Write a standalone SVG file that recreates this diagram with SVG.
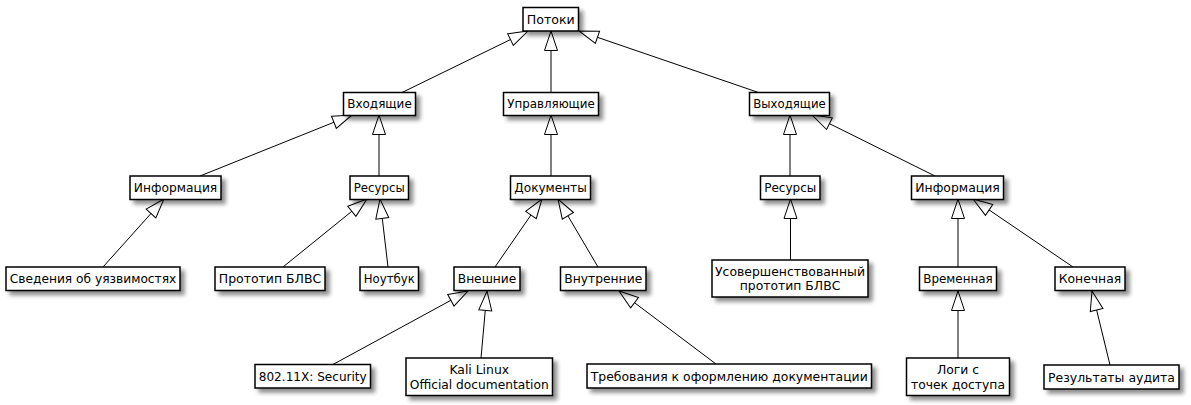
<svg xmlns="http://www.w3.org/2000/svg" width="1191" height="405" viewBox="0 0 1191 405">
<style>
.b{fill:#fff;stroke:#000;stroke-width:1.5;filter:url(#sh)}
.t{font-family:"DejaVu Sans",sans-serif;font-size:12.4px;text-anchor:middle;fill:#000}
.c{stroke:#000;stroke-width:1;fill:none;marker-end:url(#tri)}
</style>
<defs>
<filter id="sh" x="-20%" y="-30%" width="150%" height="180%">
<feGaussianBlur in="SourceAlpha" stdDeviation="2"/>
<feOffset dx="4" dy="4" result="o"/>
<feComponentTransfer><feFuncA type="linear" slope="0.45"/></feComponentTransfer>
<feMerge><feMergeNode/><feMergeNode in="SourceGraphic"/></feMerge>
</filter>
<marker id="tri" markerUnits="userSpaceOnUse" viewBox="0 0 20 14" refX="20" refY="7" markerWidth="20" markerHeight="14" orient="auto" overflow="visible">
<path d="M0.5,0.5 L20,7 L0.5,13.5 Z" fill="#fff" stroke="#000" stroke-width="1"/>
</marker>
</defs>
<g id="connectors">
<path class="c" d="M401,93 L528,31"/>
<path class="c" d="M551,93 L551,31"/>
<path class="c" d="M760,93 L579,31"/>
<path class="c" d="M200,176 L352,115"/>
<path class="c" d="M379,176 L379,115"/>
<path class="c" d="M551,176 L551,115"/>
<path class="c" d="M790,176 L790,115"/>
<path class="c" d="M935,176 L812,115"/>
<path class="c" d="M103,267 L164,199"/>
<path class="c" d="M283,267 L367,199"/>
<path class="c" d="M388,267 L380,199"/>
<path class="c" d="M495,267 L542,199"/>
<path class="c" d="M598,267 L558,199"/>
<path class="c" d="M790.5,260 L790.5,199"/>
<path class="c" d="M958,267 L958,199"/>
<path class="c" d="M1073,267 L973,199"/>
<path class="c" d="M332,365 L468,291"/>
<path class="c" d="M481,358 L487,291"/>
<path class="c" d="M716,364 L619,291"/>
<path class="c" d="M958,358 L958,291"/>
<path class="c" d="M1110,365 L1092,291"/>
</g>
<g id="n_potoki"><rect class="b" x="523" y="7.5" width="55.5" height="23.5"/><text class="t" x="550.75" y="23.7" textLength="48" lengthAdjust="spacingAndGlyphs">Потоки</text></g>
<g id="n_vhod"><rect class="b" x="343.5" y="92.5" width="72" height="23"/><text class="t" x="379.5" y="108.3" textLength="64.5" lengthAdjust="spacingAndGlyphs">Входящие</text></g>
<g id="n_upr"><rect class="b" x="503.5" y="92.5" width="95" height="23"/><text class="t" x="551" y="108.3" textLength="87.5" lengthAdjust="spacingAndGlyphs">Управляющие</text></g>
<g id="n_vyh"><rect class="b" x="749.5" y="92.5" width="80" height="23"/><text class="t" x="789.5" y="108.3" textLength="72.5" lengthAdjust="spacingAndGlyphs">Выходящие</text></g>
<g id="n_info_l"><rect class="b" x="130" y="176" width="91" height="23.5"/><text class="t" x="175.5" y="192.3" textLength="83.5" lengthAdjust="spacingAndGlyphs">Информация</text></g>
<g id="n_res_l"><rect class="b" x="350" y="176" width="58.5" height="23.5"/><text class="t" x="379.25" y="192.3" textLength="51" lengthAdjust="spacingAndGlyphs">Ресурсы</text></g>
<g id="n_docs"><rect class="b" x="510.5" y="176" width="80" height="23.5"/><text class="t" x="550.5" y="192.3" textLength="72.5" lengthAdjust="spacingAndGlyphs">Документы</text></g>
<g id="n_res_r"><rect class="b" x="760.5" y="176" width="59.5" height="23.5"/><text class="t" x="790.25" y="192.3" textLength="52" lengthAdjust="spacingAndGlyphs">Ресурсы</text></g>
<g id="n_info_r"><rect class="b" x="911.5" y="176" width="92" height="23.5"/><text class="t" x="957.5" y="192.3" textLength="84.5" lengthAdjust="spacingAndGlyphs">Информация</text></g>
<g id="n_sved"><rect class="b" x="6" y="267" width="174" height="23.5"/><text class="t" x="93" y="283.3" textLength="166.5" lengthAdjust="spacingAndGlyphs">Сведения об уязвимостях</text></g>
<g id="n_proto"><rect class="b" x="215" y="267" width="110" height="23.5"/><text class="t" x="270" y="283.3" textLength="102.5" lengthAdjust="spacingAndGlyphs">Прототип БЛВС</text></g>
<g id="n_note"><rect class="b" x="360" y="267" width="58.5" height="23.5"/><text class="t" x="389.25" y="283.3" textLength="51" lengthAdjust="spacingAndGlyphs">Ноутбук</text></g>
<g id="n_ext"><rect class="b" x="454" y="267" width="66" height="23.5"/><text class="t" x="487" y="283.3" textLength="58.5" lengthAdjust="spacingAndGlyphs">Внешние</text></g>
<g id="n_int"><rect class="b" x="560.5" y="267" width="85.5" height="23.5"/><text class="t" x="603.25" y="283.3" textLength="78" lengthAdjust="spacingAndGlyphs">Внутренние</text></g>
<g id="n_usov"><rect class="b" x="712" y="260" width="156" height="37"/><text class="t" x="790" y="275.5" textLength="150" lengthAdjust="spacingAndGlyphs">Усовершенствованный</text><text class="t" x="790" y="290.3">прототип БЛВС</text></g>
<g id="n_vrem"><rect class="b" x="919.5" y="267" width="77" height="23.5"/><text class="t" x="958" y="283.3" textLength="69.5" lengthAdjust="spacingAndGlyphs">Временная</text></g>
<g id="n_kon"><rect class="b" x="1055" y="267" width="70" height="23.5"/><text class="t" x="1090" y="283.3" textLength="62.5" lengthAdjust="spacingAndGlyphs">Конечная</text></g>
<g id="n_802"><rect class="b" x="255" y="364.5" width="115.5" height="23.5"/><text class="t" x="312.75" y="381" textLength="108" lengthAdjust="spacingAndGlyphs">802.11X: Security</text></g>
<g id="n_kali"><rect class="b" x="406" y="358" width="146.5" height="37.5"/><text class="t" x="479.25" y="373.7">Kali Linux</text><text class="t" x="479.25" y="388.5" textLength="139" lengthAdjust="spacingAndGlyphs">Official documentation</text></g>
<g id="n_treb"><rect class="b" x="587" y="364" width="284.5" height="24"/><text class="t" x="729.25" y="381" textLength="277" lengthAdjust="spacingAndGlyphs">Требования к оформлению документации</text></g>
<g id="n_logi"><rect class="b" x="906.5" y="358" width="103" height="37.5"/><text class="t" x="958" y="373.7">Логи с</text><text class="t" x="958" y="388.5" textLength="94" lengthAdjust="spacingAndGlyphs">точек доступа</text></g>
<g id="n_rez"><rect class="b" x="1044" y="365" width="135" height="24"/><text class="t" x="1111.5" y="381.5" textLength="127" lengthAdjust="spacingAndGlyphs">Результаты аудита</text></g>
</svg>
